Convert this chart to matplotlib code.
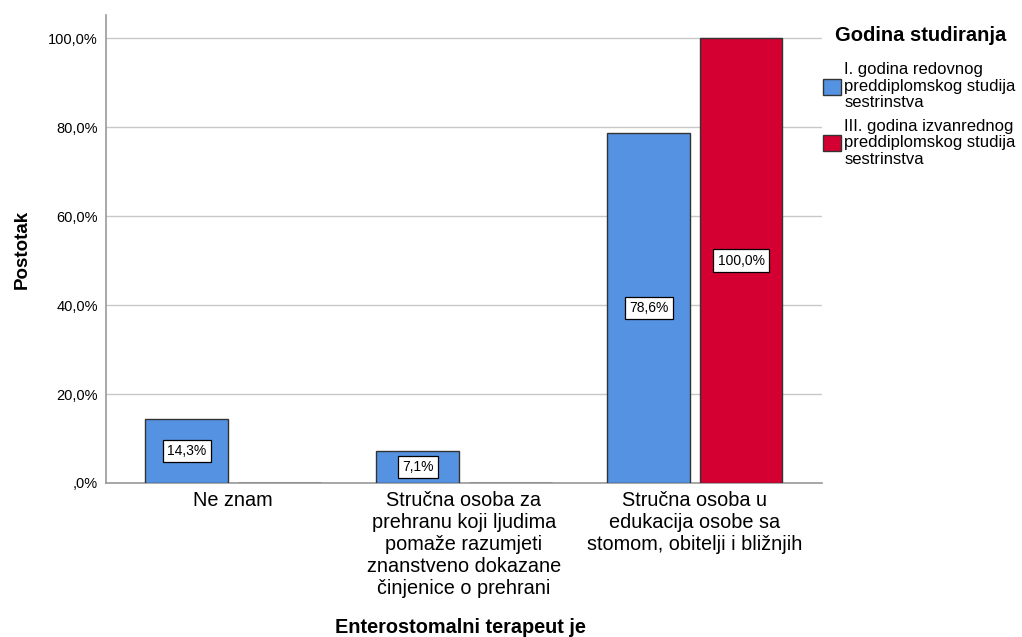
import matplotlib.pyplot as plt
import numpy as np
from matplotlib.patches import Patch

plt.rcParams['font.family'] = ['Liberation Sans', 'DejaVu Sans']

categories = ["Ne znam",
              "Stručna osoba za\nprehranu koji ljudima\npomaže razumjeti\nznanstveno dokazane\nčinjenice o prehrani",
              "Stručna osoba u\nedukacija osobe sa\nstomom, obitelji i bližnjih"]
series_names = ["I. godina redovnog\npreddiplomskog studija\nsestrinstva",
                "III. godina izvanrednog\npreddiplomskog studija\nsestrinstva"]
first_year = [14.3, 7.1, 78.6]
third_year = [0.0, 0.0, 100.0]
yticks = [0, 20, 40, 60, 80, 100]
ytick_labels = [",0%", "20,0%", "40,0%", "60,0%", "80,0%", "100,0%"]

blue = "#5592E1"
red = "#D50032"

fig = plt.figure(figsize=(10.22, 6.37), dpi=100)
ax = fig.add_axes([0.1037, 0.2418, 0.7006, 0.7346])

x = np.arange(len(categories))
w = 0.358
off = 0.2
for vals, shift, col in [(first_year, -off, blue), (third_year, off, red)]:
    bars = ax.bar(x + shift, vals, width=w, color=col, edgecolor="#333333", linewidth=1.0, zorder=3)
    for b, v in zip(bars, vals):
        if v > 0:
            ax.text(b.get_x() + b.get_width() / 2, v / 2, f"{v:.1f}%".replace(".", ","),
                    ha="center", va="center", fontsize=10, zorder=4,
                    bbox=dict(boxstyle="square,pad=0.3", facecolor="white", edgecolor="black", linewidth=0.9))

ax.set_xlim(-0.55, 2.55)
ax.set_ylim(0, 105.2)
ax.set_yticks(yticks)
ax.set_yticklabels(ytick_labels, fontsize=10.5)
ax.set_xticks(x)
ax.set_xticklabels(categories, fontsize=14.3, linespacing=1.2)
ax.tick_params(axis="x", length=0, pad=6)
ax.tick_params(axis="y", length=0, pad=6)
ax.grid(axis="y", color="#C8C8C8", linewidth=1, zorder=0)
for s in ["top", "right"]:
    ax.spines[s].set_visible(False)
for s in ["left", "bottom"]:
    ax.spines[s].set_color("#999999")
    ax.spines[s].set_linewidth(1.2)

ax.set_ylabel("Postotak", fontsize=13.5, fontweight="bold", labelpad=12)
fig.text(0.451, 0.0063, "Enterostomalni terapeut je", fontsize=14.3, fontweight="bold",
         ha="center", va="baseline")

fig.text(0.817, 0.945, "Godina studiranja", fontsize=14.5, fontweight="bold", ha="left", va="center")
handles = [Patch(facecolor=blue, edgecolor="#333333", label=series_names[0]),
           Patch(facecolor=red, edgecolor="#333333", label=series_names[1])]
leg = fig.legend(handles=handles, loc="upper left", bbox_to_anchor=(0.805, 0.902),
                 frameon=False, fontsize=12, handlelength=1.1, handleheight=1.1,
                 handletextpad=0.2, labelspacing=0.5, borderaxespad=0, borderpad=0)
for t in leg.get_texts():
    t.set_linespacing(1.12)

fig.savefig("out.png", dpi=100)
